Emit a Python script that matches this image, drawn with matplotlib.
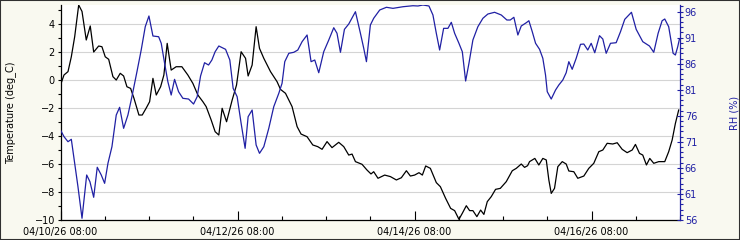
import numpy as np
import matplotlib
matplotlib.use("Agg")
import matplotlib.pyplot as plt
import matplotlib.dates as mdates
from matplotlib.patches import Rectangle
from matplotlib.ticker import FixedLocator

start = np.datetime64("2026-04-10T08:00")

# Temperature (deg C): hours since start, value
temp_hours = [0.0, 0.95, 2.03, 2.93, 3.85, 4.93, 5.83, 6.99, 8.07, 9.0, 10.35, 11.24, 12.14, 13.06,
              14.22, 15.12, 16.2, 17.12, 18.02, 19.02, 19.91, 21.27, 22.16, 23.25, 24.17, 25.06,
              25.96, 27.15, 28.04, 28.94, 30.02, 31.37, 32.92, 34.54, 35.9, 37.25, 38.61, 39.5,
              40.86, 41.94, 42.94, 43.84, 45.03, 46.55, 47.74, 48.98, 50.18, 50.88, 51.96, 53.05,
              53.97, 55.13, 56.95, 58.74, 59.66, 61.01, 62.8, 64.16, 65.24, 66.87, 68.41, 69.76,
              70.93, 72.28, 73.64, 75.45, 76.81, 78.16, 79.06, 79.98, 81.77, 83.12, 84.2, 84.94,
              86.1, 87.92, 89.46, 91.09, 92.44, 93.8, 94.88, 96.04, 97.21, 98.13, 99.03, 100.3,
              101.92, 103.01, 104.44, 105.8, 106.88, 108.05, 108.97, 110.05, 110.95, 111.84,
              112.92, 113.93, 114.82, 115.74, 116.82, 117.99, 119.26, 120.89, 122.51, 123.6,
              124.95, 125.85, 126.66, 127.2, 128.64, 129.72, 130.8, 131.73, 132.43, 133.08,
              133.97, 134.87, 136.06, 137.14, 137.85, 139.2, 140.29, 141.91, 143.27, 144.62,
              145.98, 147.06, 148.25, 149.77, 150.96, 152.32, 153.67, 155.03, 155.92, 157.01,
              157.9, 158.9, 159.8, 160.88, 162.23, 163.86, 164.94, 165.86, 166.75, 167.65]
temp_values = [-0.36, 0.36, 0.6, 1.66, 3.1, 5.36, 4.9, 2.86, 3.86, 2.0, 2.43, 2.38, 1.66, 1.48,
               0.24, 0.0, 0.48, 0.29, -0.48, -0.6, -1.3, -2.5, -2.5, -2.0, -1.55, 0.12,
               -1.07, -0.48, 0.36, 2.62, 0.71, 0.95, 0.95, 0.36, -0.24, -1.07, -1.55, -1.9,
               -2.86, -3.69, -3.93, -2.02, -2.98, -1.43, -0.36, 2.02, 1.55, 0.29, 1.07, 3.81,
               2.26, 1.55, 0.6, -0.12, -0.67, -0.95, -1.9, -3.33, -3.86, -4.05, -4.64, -4.76,
               -4.95, -4.4, -4.83, -4.45, -4.76, -5.36, -5.29, -5.83, -6.02, -6.43, -6.71, -6.55,
               -7.02, -6.79, -6.9, -7.14, -6.98, -6.48, -6.86, -6.79, -6.62, -6.79, -6.14, -6.31,
               -7.33, -7.62, -8.45, -9.17, -9.33, -9.95, -9.52, -8.98, -9.33, -9.33,
               -9.76, -9.29, -9.6, -8.69, -8.33, -7.81, -7.74, -7.26, -6.48, -6.31,
               -6.0, -6.24, -6.12, -5.83, -5.6, -6.07, -5.6, -5.71, -7.14, -8.1,
               -7.74, -6.19, -5.83, -6.0, -6.5, -6.55, -7.02, -6.86, -6.31, -5.95,
               -5.12, -5.0, -4.52, -4.57, -4.48, -4.95, -5.19, -5.0, -4.6, -5.24,
               -5.36, -6.07, -5.6, -5.95, -5.83, -5.83, -5.12, -4.29, -3.1, -2.14]

# Relative humidity (%): hours since start, value
rh_hours = [0.0, 0.95, 2.03, 2.93, 3.85, 4.74, 5.83, 6.37, 7.1, 7.99, 9.0, 9.97, 11.05, 11.97,
            12.87, 13.95, 15.12, 16.04, 17.12, 18.29, 19.37, 20.73, 21.89, 22.98, 23.98, 25.06,
            26.61, 27.31, 28.23, 29.12, 30.02, 30.94, 32.02, 33.19, 34.73, 36.09, 37.06, 37.98,
            39.07, 40.15, 41.05, 41.94, 42.94, 44.76, 45.92, 46.82, 47.9, 48.98, 50.07, 50.88,
            51.96, 53.05, 53.97, 55.13, 56.49, 57.84, 59.2, 60.09, 60.82, 61.91, 63.26, 64.35,
            65.51, 66.87, 67.95, 68.95, 70.04, 71.39, 72.75, 74.1, 74.99, 75.91, 77.0, 78.16,
            79.98, 81.33, 82.23, 82.96, 84.04, 84.94, 86.56, 88.38, 90.17, 92.88, 95.58, 96.94,
            98.29, 99.92, 101.0, 101.92, 102.82, 103.9, 105.07, 105.99, 106.88, 108.05, 108.97,
            109.86, 110.76, 111.84, 113.19, 114.55, 115.9, 117.72, 119.53, 121.05, 121.97,
            122.95, 124.03, 124.95, 126.31, 127.01, 127.93, 128.83, 129.91, 130.8, 131.54,
            132.0, 133.08, 134.25, 135.14, 136.22, 137.14, 137.85, 138.77, 139.85, 141.02,
            141.91, 142.99, 143.91, 144.89, 146.16, 147.06, 147.98, 149.15, 150.69, 151.86,
            153.02, 154.84, 156.11, 157.9, 159.72, 160.88, 162.07, 163.15, 163.86, 164.94,
            166.13, 166.75, 167.38, 167.84]
rh_values = [73.27, 72.0, 71.03, 71.49, 66.88, 62.4, 56.33, 59.84, 64.64, 63.35, 60.36, 66.12, 64.64, 63.04,
             66.88, 70.07, 76.15, 77.63, 73.6, 76.15, 79.67, 84.47, 88.63, 93.1, 95.16, 91.32,
             91.18, 89.92, 86.08, 82.54, 79.99, 83.0, 80.63, 79.36, 79.22, 78.26, 79.67, 83.64,
             86.19, 85.75, 86.71, 88.3, 89.4, 88.76, 86.71, 81.28, 79.67, 74.56, 69.76, 75.83,
             77.11, 70.4, 68.8, 70.07, 73.6, 77.75, 80.32, 82.24, 86.39, 88.0, 88.19, 88.63,
             90.23, 91.51, 86.39, 86.71, 84.27, 88.3, 90.55, 92.91, 91.84, 88.19, 92.6, 93.62,
             95.98, 91.84, 88.96, 86.39, 93.43, 94.72, 96.31, 96.83, 96.63, 96.94, 97.13, 97.08,
             97.27, 97.08, 95.35, 91.84, 88.63, 92.79, 92.79, 93.95, 91.84, 89.92, 88.3,
             82.68, 86.08, 90.55, 93.1, 94.72, 95.54, 95.87, 95.35, 94.39, 94.39,
             94.91, 91.51, 93.24, 93.87, 94.25, 92.15, 89.92, 88.76, 87.04, 83.83,
             80.63, 79.22, 80.95, 81.91, 82.87, 84.27, 86.39, 84.93, 87.04, 89.72,
             89.78, 88.63, 89.92, 88.11, 91.38, 90.74, 88.0, 89.92, 90.03, 92.15,
             94.52, 95.87, 92.6, 90.23, 89.4, 88.19, 91.84, 94.25, 94.58, 93.1,
             88.0, 87.67, 89.26, 90.68]

temp_ticks = [-10, -8, -6, -4, -2, 0, 2, 4]
rh_ticks = [56, 61, 66, 71, 76, 81, 86, 91, 96]

def to_time(hours):
    return start + (np.array(hours) * 60).round().astype("timedelta64[m]")

t_temp = to_time(temp_hours)
t_rh = to_time(rh_hours)

BLUE = "#2020a4"
BG = "#f9f9f0"
FS = 7

fig = plt.figure(figsize=(7.4, 2.4), dpi=100, facecolor=BG)
ax = fig.add_axes([60.5 / 740, 20 / 240, (680 - 60.5) / 740, 215 / 240])
ax.set_facecolor("white")
ax2 = ax.twinx()

ax.plot(t_temp, temp_values, color="black", lw=0.9, zorder=3)
ax2.plot(t_rh, rh_values, color=BLUE, lw=0.9, zorder=3)

ax.set_xlim(start, start + np.timedelta64(168, "h"))
ax.set_ylim(-10, max(temp_values))
ax2.set_ylim(56, max(rh_values))

major_days = [start + np.timedelta64(48 * i, "h") for i in range(4)]
ax.xaxis.set_major_locator(FixedLocator(mdates.date2num(major_days)))
minor_times = [start + np.timedelta64(12 * i, "h") for i in range(15)]
ax.xaxis.set_minor_locator(FixedLocator(mdates.date2num(minor_times)))
ax.xaxis.set_major_formatter(mdates.DateFormatter("%m/%d/%y %H:%M"))

ax.set_yticks(temp_ticks)
ax.set_yticks(np.arange(-10, 6, 1), minor=True)
ax2.set_yticks(rh_ticks)
ax2.set_yticks(np.arange(56, 98, 1), minor=True)

ax.tick_params(axis="x", which="major", direction="in", length=6.5, width=0.8, labelsize=FS, pad=5)
ax.tick_params(axis="x", which="minor", direction="in", length=3, width=0.8)
ax.tick_params(axis="y", which="both", direction="out", length=2, width=0.8, labelsize=FS, pad=2)
ax2.tick_params(axis="y", which="major", direction="inout", length=5, width=0.8, colors=BLUE,
                labelsize=FS, pad=1)
ax2.tick_params(axis="y", which="minor", direction="out", length=2, width=0.8, colors=BLUE)

ax.grid(axis="y", which="major", color="#d4d4d4", lw=0.8, zorder=0)
ax.set_axisbelow(True)

ax.spines["top"].set_visible(False)
ax2.spines["top"].set_visible(False)
ax2.spines["right"].set_color(BLUE)
ax2.spines["right"].set_linewidth(0.9)
ax.spines["right"].set_visible(False)
ax2.spines["left"].set_visible(False)
ax2.spines["bottom"].set_visible(False)
ax.spines["left"].set_linewidth(0.9)
ax.spines["bottom"].set_linewidth(0.9)

ax.set_ylabel("Temperature (deg_C)", fontsize=FS, labelpad=13)
ax2.set_ylabel("RH (%)", fontsize=FS, color=BLUE, labelpad=23)

fig.patches.append(Rectangle((0, 0), 1, 1, transform=fig.transFigure, fill=False,
                             edgecolor="#303030", lw=1.5, zorder=10))

fig.savefig("out.png", dpi=100, facecolor=BG)
